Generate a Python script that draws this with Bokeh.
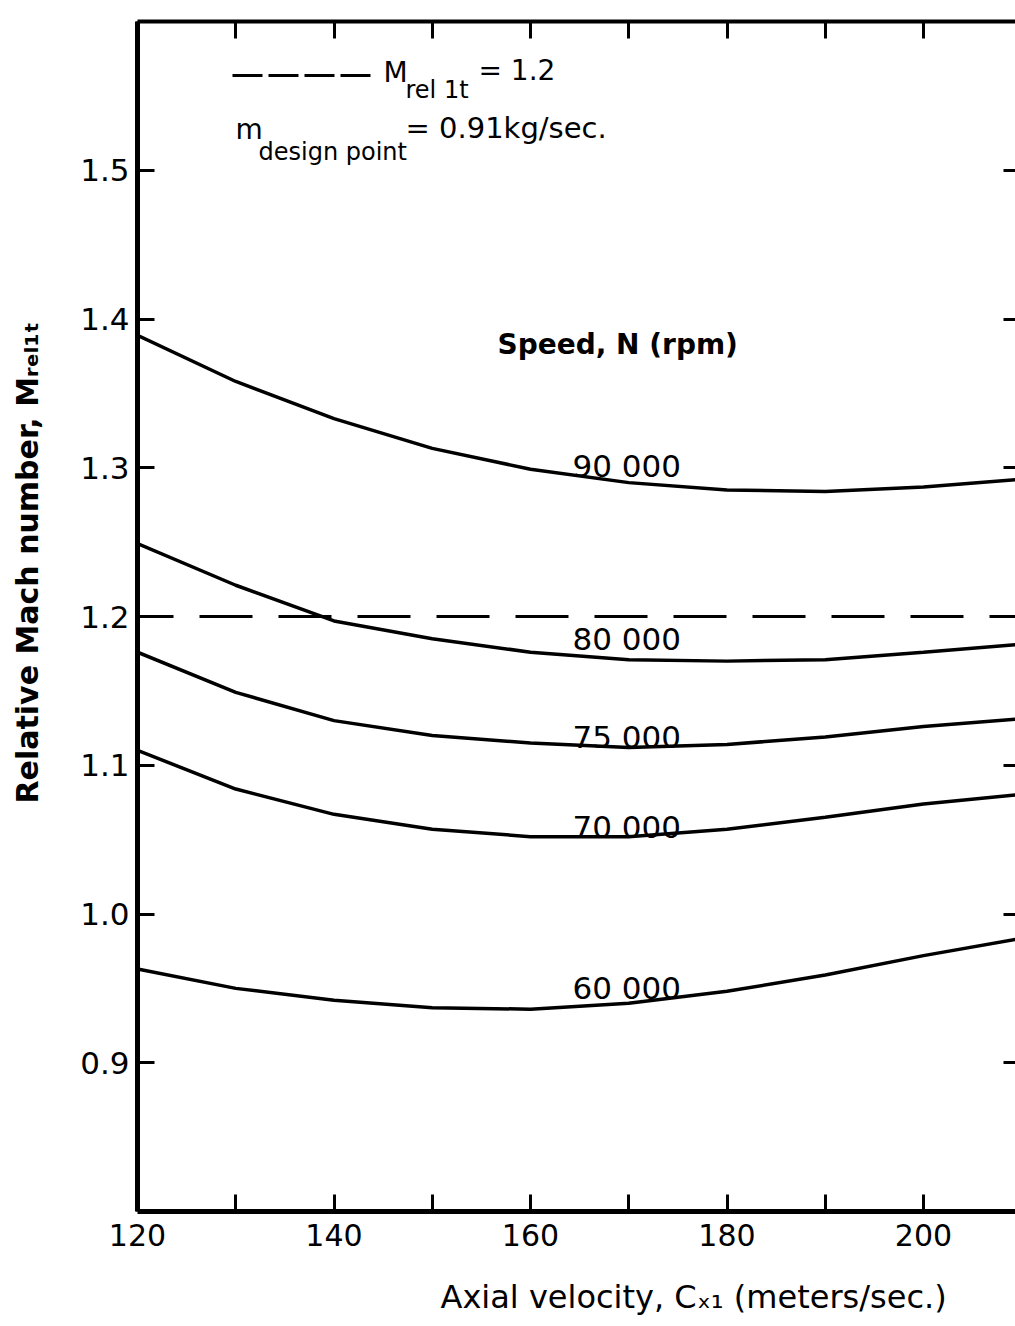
import numpy as np
from bokeh.plotting import figure
from bokeh.models import FixedTicker, LinearAxis, Label, Span, PrintfTickFormatter, Title
from bokeh.embed import file_html
from bokeh.resources import INLINE

# ---------------- data ----------------
axial_velocity = [120, 130, 140, 150, 160, 170, 180, 190, 200, 209.4]
mach_90000 = [1.389, 1.358, 1.333, 1.313, 1.299, 1.290, 1.285, 1.284, 1.287, 1.292]
mach_80000 = [1.249, 1.221, 1.197, 1.185, 1.176, 1.171, 1.170, 1.171, 1.176, 1.181]
mach_75000 = [1.176, 1.149, 1.130, 1.120, 1.115, 1.112, 1.114, 1.119, 1.126, 1.131]
mach_70000 = [1.110, 1.084, 1.067, 1.057, 1.052, 1.052, 1.057, 1.065, 1.074, 1.080]
mach_60000 = [0.963, 0.950, 0.942, 0.937, 0.936, 0.940, 0.948, 0.959, 0.972, 0.983]
speed_labels = ["90 000", "80 000", "75 000", "70 000", "60 000"]
m_rel_limit = 1.2

x_major_ticks = [120, 140, 160, 180, 200]
x_minor_ticks = [130, 150, 170, 190]
y_ticks = [0.9, 1.0, 1.1, 1.2, 1.3, 1.4, 1.5]

# ---------------- layout ----------------
W, H = 1015, 1326
LEFT, RIGHT, TOP, BOTTOM = 137, 0, 21, 115
FW = W - LEFT - RIGHT
FH = H - TOP - BOTTOM
X0 = 120
X1 = X0 + FW / 9.825
Y0, Y1 = 0.8, 1.6
FONT = "DejaVu Sans"


def dx(px):
    return X0 + (px - LEFT) / FW * (X1 - X0)


def dy(py):
    return Y1 - (py - TOP) / FH * (Y1 - Y0)


def dpy(pixels):
    return pixels / FH * (Y1 - Y0)


def spacer_axis(size, tick):
    """An invisible axis (nothing painted) that only reserves space."""
    ax = LinearAxis(ticker=FixedTicker(ticks=[tick], minor_ticks=[]))
    ax.axis_line_color = None
    ax.major_tick_line_color = None
    ax.minor_tick_line_color = None
    ax.major_tick_in = 0
    ax.major_tick_out = size
    ax.minor_tick_in = 0
    ax.minor_tick_out = 0
    ax.major_label_text_color = None
    ax.major_label_text_font_size = "1px"
    ax.major_label_standoff = 0
    return ax


p = figure(width=W, height=H, x_range=(X0, X1), y_range=(Y0, Y1),
           output_backend="svg", toolbar_location=None,
           min_border_left=LEFT, min_border_right=RIGHT,
           min_border_top=TOP, min_border_bottom=BOTTOM)
p.outline_line_color = None
p.grid.visible = False
p.background_fill_color = "white"
p.border_fill_color = "white"

# bottom axis
xa = p.xaxis[0]
xa.ticker = FixedTicker(ticks=x_major_ticks, minor_ticks=x_minor_ticks)
xa.axis_line_width = 5
xa.major_tick_line_width = 3
xa.minor_tick_line_width = 3
xa.major_tick_in = 17
xa.major_tick_out = 0
xa.minor_tick_in = 17
xa.minor_tick_out = 0
xa.major_label_text_font = FONT
xa.major_label_text_font_size = "30px"
xa.major_label_standoff = 12
xa.major_label_text_color = "black"

# left axis
ya = p.yaxis[0]
ya.ticker = FixedTicker(ticks=y_ticks, minor_ticks=[])
ya.formatter = PrintfTickFormatter(format="%.1f")
ya.axis_line_width = 5
ya.major_tick_line_width = 3
ya.major_tick_in = 17
ya.major_tick_out = 0
ya.minor_tick_line_color = None
ya.major_label_text_font = FONT
ya.major_label_text_font_size = "31px"
ya.major_label_standoff = 8
ya.major_label_text_color = "black"

# top axis (ticks only)
top = LinearAxis(ticker=FixedTicker(ticks=x_major_ticks, minor_ticks=x_minor_ticks))
top.axis_line_width = 4
top.major_tick_line_width = 3
top.minor_tick_line_width = 3
top.major_tick_in = 17
top.major_tick_out = 0
top.minor_tick_in = 17
top.minor_tick_out = 0
top.major_label_text_font_size = "1px"
top.major_label_text_color = None
top.major_label_standoff = 0
p.add_layout(top, "above")

# right axis (ticks only; the border itself is cut off in the reference)
right = LinearAxis(ticker=FixedTicker(ticks=y_ticks, minor_ticks=[]))
right.axis_line_color = None
right.major_tick_line_width = 3
right.major_tick_in = 12
right.major_tick_out = 0
right.minor_tick_line_color = None
right.major_label_text_font_size = "1px"
right.major_label_text_color = None
right.major_label_standoff = 0
p.add_layout(right, "right")

# spacing between tick labels and axis titles
p.add_layout(spacer_axis(22, 160), "below")
p.add_layout(spacer_axis(30, 1.2), "left")

# axis titles
p.add_layout(Title(text="Axial velocity, C\u2093\u2081 (meters/sec.)", align="left",
                   offset=303, vertical_align="bottom", standoff=11,
                   text_font=FONT, text_font_size="32px", text_font_style="normal",
                   text_color="black"), "below")
p.add_layout(Title(text="Relative Mach number, M\u1d63\u2091\u2097\u2081\u209c", align="left",
                   offset=408, vertical_align="bottom", standoff=6,
                   text_font=FONT, text_font_size="30px", text_font_style="bold",
                   text_color="black"), "left")

# threshold line
p.add_layout(Span(location=m_rel_limit, dimension="width", line_color="black",
                  line_width=3, line_dash="53 26", line_dash_offset=17))

# curves and their labels (label digits sit just on / above each curve)
series = [mach_90000, mach_80000, mach_75000, mach_70000, mach_60000]
label_gaps = [5, 9, -1, -2, 4]
label_left = dx(572)
label_mid = dx(626)
for vals, lab, gap in zip(series, speed_labels, label_gaps):
    p.line(axial_velocity, vals, line_color="black", line_width=3.5)
    yv = float(np.interp(label_mid, axial_velocity, vals)) + dpy(gap + 11.5)
    p.add_layout(Label(x=label_left, y=yv, text=lab, text_font=FONT,
                       text_font_size="31px", text_align="left",
                       text_baseline="middle", text_color="black"))

# "Speed, N (rpm)"
p.add_layout(Label(x=dx(497), y=dy(344), text="Speed, N (rpm)", text_font=FONT,
                   text_font_size="28px", text_font_style="bold",
                   text_align="left", text_baseline="middle", text_color="black"))

# key / notes at the top
p.line([dx(232), dx(370)], [dy(75), dy(75)], line_color="black", line_width=3,
       line_dash="30 6")
p.add_layout(Label(x=dx(383), y=dy(72), text="M", text_font=FONT, text_font_size="28px",
                   text_align="left", text_baseline="middle", text_color="black"))
p.add_layout(Label(x=dx(405), y=dy(89), text="rel 1t", text_font=FONT, text_font_size="24px",
                   text_align="left", text_baseline="middle", text_color="black"))
p.add_layout(Label(x=dx(478), y=dy(70), text="= 1.2", text_font=FONT, text_font_size="28px",
                   text_align="left", text_baseline="middle", text_color="black"))
p.add_layout(Label(x=dx(235), y=dy(129), text="m", text_font=FONT, text_font_size="28px",
                   text_align="left", text_baseline="middle", text_color="black"))
p.add_layout(Label(x=dx(258), y=dy(151), text="design point", text_font=FONT, text_font_size="24px",
                   text_align="left", text_baseline="middle", text_color="black"))
p.add_layout(Label(x=dx(405), y=dy(127), text="= 0.91kg/sec.", text_font=FONT, text_font_size="29px",
                   text_align="left", text_baseline="middle", text_color="black"))

open("out.html", "w").write(file_html(p, INLINE))
